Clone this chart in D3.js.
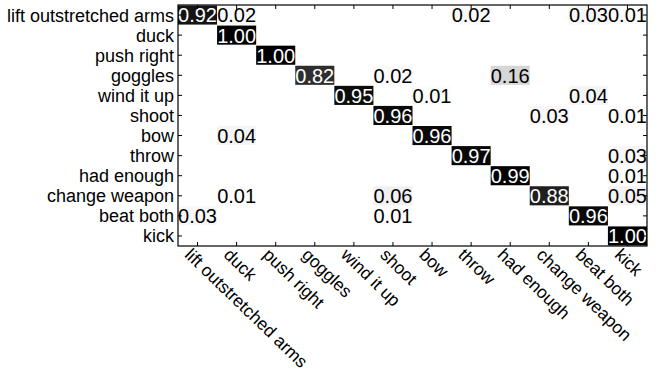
<!DOCTYPE html>
<html>
<head>
<meta charset="utf-8">
<script src="https://cdn.jsdelivr.net/npm/d3@7"></script>
<style>
  body { margin: 0; background: #fff; }
  text { font-family: "Liberation Sans", Arial, Helvetica, sans-serif; }
</style>
</head>
<body>
<svg id="chart" width="663" height="372"></svg>
<script>
// class names, rows = actual, columns = predicted
const classes = ["lift outstretched arms", "duck", "push right", "goggles", "wind it up",
  "shoot", "bow", "throw", "had enough", "change weapon", "beat both", "kick"];

// confusion matrix, 0 = empty cell
const matrix = [
  [0.92, 0.02, 0, 0, 0, 0, 0, 0.02, 0, 0, 0.03, 0.01],
  [0, 1.00, 0, 0, 0, 0, 0, 0, 0, 0, 0, 0],
  [0, 0, 1.00, 0, 0, 0, 0, 0, 0, 0, 0, 0],
  [0, 0, 0, 0.82, 0, 0.02, 0, 0, 0.16, 0, 0, 0],
  [0, 0, 0, 0, 0.95, 0, 0.01, 0, 0, 0, 0.04, 0],
  [0, 0, 0, 0, 0, 0.96, 0, 0, 0, 0.03, 0, 0.01],
  [0, 0.04, 0, 0, 0, 0, 0.96, 0, 0, 0, 0, 0],
  [0, 0, 0, 0, 0, 0, 0, 0.97, 0, 0, 0, 0.03],
  [0, 0, 0, 0, 0, 0, 0, 0, 0.99, 0, 0, 0.01],
  [0, 0.01, 0, 0, 0, 0.06, 0, 0, 0, 0.88, 0, 0.05],
  [0.03, 0, 0, 0, 0, 0.01, 0, 0, 0, 0, 0.96, 0],
  [0, 0, 0, 0, 0, 0, 0, 0, 0, 0, 0, 1.00]
];

const svg = d3.select('#chart');
const plotL = 178, plotR = 647, plotT = 5, plotB = 246;

const x = d3.scaleBand().domain(d3.range(classes.length)).range([plotL, plotR]);
const y = d3.scaleBand().domain(d3.range(classes.length)).range([plotT, plotB]);
const shade = d3.scaleLinear().domain([0, 1]).range(['#ffffff', '#000000']);
const fmt = d3.format('.2f');

// flatten non-empty cells
const cells = [];
matrix.forEach((row, i) => row.forEach((v, j) => {
  if (v > 0) cells.push({ i, j, v });
}));

const g = svg.append('g');

g.selectAll('rect.cell')
  .data(cells)
  .enter()
  .append('rect')
  .attr('class', 'cell')
  .attr('x', d => x(d.j))
  .attr('y', d => y(d.i) + 0.5)
  .attr('width', x.bandwidth())
  .attr('height', y.bandwidth() - 1)
  .attr('fill', d => shade(d.v));

g.selectAll('text.val')
  .data(cells)
  .enter()
  .append('text')
  .attr('class', 'val')
  .attr('x', d => x(d.j) + x.bandwidth() / 2)
  .attr('y', d => y(d.i) + y.bandwidth() / 2)
  .attr('dy', '0.37em')
  .attr('text-anchor', 'middle')
  .attr('font-size', 20)
  .attr('fill', d => d.v > 0.5 ? '#fff' : '#000')
  .text(d => fmt(d.v));

// inward ticks on all four sides
const tickLen = 4;
const xAxisB = d3.axisBottom(x).tickSize(-tickLen).tickFormat('');
const xAxisT = d3.axisTop(x).tickSize(-tickLen).tickFormat('');
const yAxisL = d3.axisLeft(y).tickSize(-tickLen).tickFormat('');
const yAxisR = d3.axisRight(y).tickSize(-tickLen).tickFormat('');

[[xAxisB, `translate(0,${plotB})`], [xAxisT, `translate(0,${plotT})`],
 [yAxisL, `translate(${plotL},0)`], [yAxisR, `translate(${plotR},0)`]].forEach(([ax, tr]) => {
  const a = svg.append('g').attr('transform', tr).call(ax);
  a.select('.domain').remove();
  a.selectAll('line').attr('stroke', '#000');
});

// frame
svg.append('rect')
  .attr('x', plotL).attr('y', plotT)
  .attr('width', plotR - plotL).attr('height', plotB - plotT)
  .attr('fill', 'none').attr('stroke', '#000').attr('stroke-width', 1.2);

// row labels
svg.selectAll('text.ylab')
  .data(classes)
  .enter()
  .append('text')
  .attr('class', 'ylab')
  .attr('x', plotL - 4)
  .attr('y', (d, i) => y(i) + y.bandwidth() / 2)
  .attr('dy', '0.36em')
  .attr('text-anchor', 'end')
  .attr('font-size', 18)
  .text(d => d);

// rotated column labels
svg.selectAll('text.xlab')
  .data(classes)
  .enter()
  .append('text')
  .attr('class', 'xlab')
  .attr('transform', (d, i) => `translate(${x(i) + x.bandwidth() / 2 - 5},${plotB + 1}) rotate(44)`)
  .attr('dy', '0.72em')
  .attr('text-anchor', 'start')
  .attr('font-size', 17.5)
  .text(d => d);
</script>
</body>
</html>
